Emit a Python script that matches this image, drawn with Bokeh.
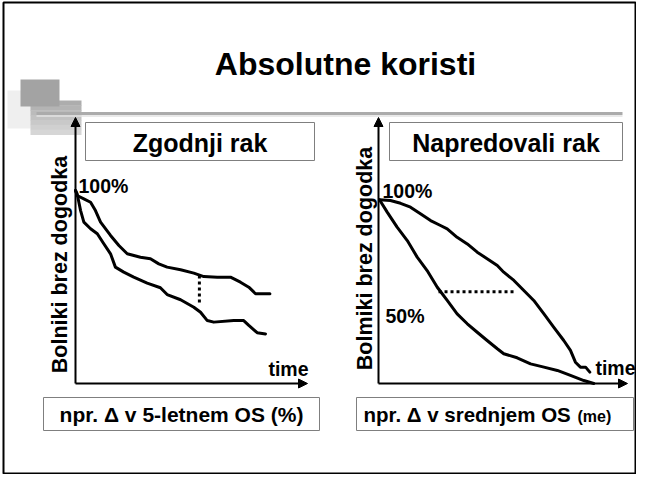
from math import pi
from bokeh.plotting import figure
from bokeh.models import Range1d, Label, Arrow, NormalHead
from bokeh.embed import file_html
from bokeh.resources import INLINE

# ---------------- data ----------------
TITLE = "Absolutne koristi"
PANEL_TITLES = ["Zgodnji rak", "Napredovali rak"]
Y_LABELS = ["Bolniki brez dogodka", "Bolmiki brez dogodka"]
X_LABEL = "time"
FOOTERS = ["npr. Δ v 5-letnem OS (%)", "npr. Δ v srednjem OS"]
FOOTER_UNIT = "(me)"
LABEL_100 = "100%"
LABEL_50 = "50%"

# early cancer (time in arbitrary units 0-10, survival %)
early_t_top = [0, 0.07, 0.36, 0.65, 0.86, 1.08, 1.51, 1.87, 2.23, 2.80, 3.23, 3.59, 3.95,
               4.53, 5.10, 5.53, 6.11, 6.68, 7.11, 7.47, 7.76, 8.38]
early_s_top = [100, 97.4, 95.7, 93.9, 89.6, 83.6, 76.7, 71.5, 67.2, 65.4, 64.6, 62.0, 60.3,
               58.9, 57.2, 55.4, 55.1, 55.1, 52.5, 49.9, 46.5, 46.5]
early_t_low = [0, 0.07, 0.22, 0.36, 0.65, 0.94, 1.22, 1.51, 1.72, 2.08, 2.51, 3.09, 3.66,
               3.95, 4.53, 5.10, 5.39, 5.68, 5.96, 6.82, 7.25, 7.47, 7.83, 8.19]
early_s_low = [100, 98.3, 89.6, 83.6, 80.2, 77.6, 72.4, 67.2, 60.3, 57.7, 55.1, 52.0, 49.6,
               46.1, 43.4, 39.5, 36.9, 32.6, 31.8, 32.6, 32.6, 30.1, 26.3, 25.7]
early_gap_t = [5.34, 5.34]
early_gap_s = [56.0, 40.4]

# advanced cancer
adv_t_top = [0, 0.44, 0.85, 1.25, 1.65, 2.06, 2.46, 2.73, 3.13, 3.54, 3.94, 4.34, 4.75,
             5.01, 5.42, 5.82, 6.22, 6.63, 7.03, 7.43, 7.70, 7.90, 8.10, 8.31, 8.48]
adv_s_top = [100, 99.6, 98.1, 96.0, 92.4, 88.7, 86.0, 84.2, 79.6, 76.0, 71.5, 67.9, 64.2,
             60.6, 56.1, 50.6, 45.2, 37.9, 30.6, 23.4, 18.0, 11.6, 8.9, 8.9, 6.2]
adv_t_low = [0, 0.31, 0.71, 1.12, 1.52, 1.92, 2.33, 2.73, 3.13, 3.54, 3.94, 4.34, 4.75,
             5.01, 5.55, 6.09, 6.63, 7.17, 7.70, 8.24, 8.64]
adv_s_low = [100, 93.3, 85.1, 77.8, 68.8, 61.5, 52.4, 45.2, 37.9, 32.5, 27.9, 23.4, 18.9,
             16.2, 14.0, 10.7, 8.9, 7.1, 4.4, 1.6, 0]
adv_gap_t = [2.38, 5.48]
adv_gap_s = [50, 50]

# ---------------- page ----------------
FONT = "Liberation Sans"
p = figure(width=636, height=474, output_backend="svg", toolbar_location=None,
           x_range=Range1d(0, 636), y_range=Range1d(474, 0),
           x_axis_location=None, y_axis_location=None, min_border=0,
           background_fill_color="white", border_fill_color="white")
p.grid.visible = False
p.outline_line_color = None

# slide border
p.quad(left=[3], right=[635], top=[2], bottom=[473], fill_color=None,
       line_color="black", line_width=2)

# decorative squares
p.quad(left=[7], right=[31], top=[90], bottom=[128], fill_color="#efefef", line_color=None)
greys = ["#adadad", "#b4b4b4", "#bbbbbb", "#c2c2c2", "#c9c9c9", "#d0d0d0", "#d6d6d6"]
band = (134 - 100) / len(greys)
for i, g in enumerate(greys):
    p.quad(left=[30], right=[81], top=[100 + i * band], bottom=[100 + (i + 1) * band + 0.5],
           fill_color=g, line_color=None)
p.quad(left=[20], right=[59], top=[79], bottom=[106], fill_color="#a3a3a3", line_color=None)
p.line([36, 622], [115.5, 115.5], line_color="#e2e2e2", line_width=1.5)
p.line([36, 622], [113, 113], line_color="#ababab", line_width=3)

def label(x, y, text, size, align="left", baseline="alphabetic", angle=0.0):
    p.add_layout(Label(x=x, y=y, text=text, text_font=FONT, text_font_style="bold",
                       text_font_size=size, text_align=align, text_baseline=baseline,
                       text_color="black", angle=angle, angle_units="rad"))

label(345, 63, TITLE, "32px", align="center")

# panel title boxes
for (l, r), t in zip([(85, 314), (389, 622)], PANEL_TITLES):
    p.quad(left=[l], right=[r], top=[122], bottom=[160], fill_color="white",
           line_color="#7f7f7f", line_width=1)
    label((l + r) / 2, 142, t, "25px", align="center")

# footer boxes
for (l, r) in [(43, 319), (356, 633)]:
    p.quad(left=[l], right=[r], top=[397], bottom=[430], fill_color="white",
           line_color="#7f7f7f", line_width=1)
label(181, 414, FOOTERS[0], "21px", align="center")
label(363, 414, FOOTERS[1], "20.5px", align="left")
label(577, 416, FOOTER_UNIT, "16px", align="left")

# axes arrows
def arrow(x0, y0, x1, y1):
    p.add_layout(Arrow(end=NormalHead(size=9, fill_color="black", line_color="black"),
                       x_start=x0, y_start=y0, x_end=x1, y_end=y1,
                       line_color="black", line_width=2))

arrow(75, 383, 75, 117)
arrow(75, 383, 307, 383)
arrow(378, 383, 378, 117)
arrow(378, 383, 627, 383)

# y labels
label(59, 264, Y_LABELS[0], "21.5px", align="center", baseline="middle", angle=pi / 2)
label(364, 258, Y_LABELS[1], "21.5px", align="center", baseline="middle", angle=pi / 2)

label(78, 185, LABEL_100, "19.5px")
label(382, 190, LABEL_100, "19.5px")
label(385, 315, LABEL_50, "19.5px")
label(308, 368, X_LABEL, "19.5px", align="right")
label(635, 367, X_LABEL, "19.5px", align="right")

# sub-plots for the curves
left = p.subplot(x_source=Range1d(0, 10), y_source=Range1d(0, 100),
                 x_target=Range1d(75, 307), y_target=Range1d(383, 190))
right = p.subplot(x_source=Range1d(0, 10), y_source=Range1d(0, 100),
                  x_target=Range1d(379, 627), y_target=Range1d(383, 199.3))

for sp, t, s in [(left, early_t_top, early_s_top), (left, early_t_low, early_s_low),
                 (right, adv_t_top, adv_s_top), (right, adv_t_low, adv_s_low)]:
    sp.line(t, s, line_color="black", line_width=3, line_join="round", line_cap="round")

left.line(early_gap_t, early_gap_s, line_color="black", line_width=3, line_dash="3 3")
right.line(adv_gap_t, adv_gap_s, line_color="black", line_width=3, line_dash="3 3")

open("out.html", "w").write(file_html(p, INLINE))
